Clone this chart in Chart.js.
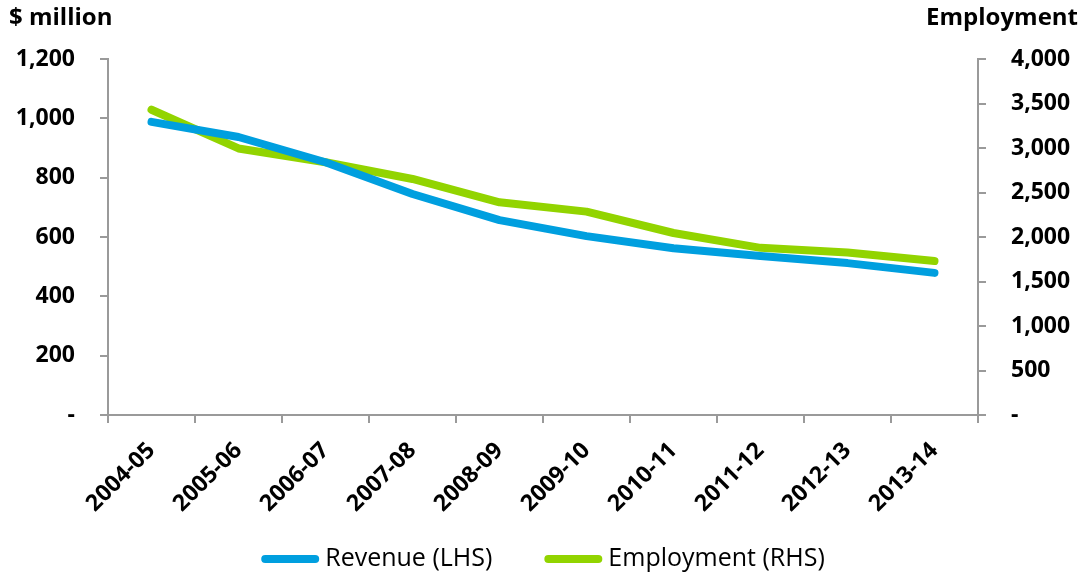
<!DOCTYPE html>
<html lang="en">
<head>
  <meta charset="UTF-8">
  <title>Revenue and employment</title>
  <style>
    body { margin: 0; background: #fff; }
    #wrap { position: relative; width: 1090px; height: 575px; }
  </style>
  <script src="https://cdn.jsdelivr.net/npm/chart.js"></script>
</head>
<body>
  <div id="wrap"><canvas id="chart"></canvas></div>
  <script>
    // data
    const years = ['2004-05', '2005-06', '2006-07', '2007-08', '2008-09',
                   '2009-10', '2010-11', '2011-12', '2012-13', '2013-14'];
    const revenue = [988, 937, 852, 745, 657, 603, 562, 536, 512, 479];
    const employment = [3430, 2995, 2840, 2652, 2390, 2285, 2045, 1878, 1825, 1730];
    const leftTicks = [0, 200, 400, 600, 800, 1000, 1200];
    const rightTicks = [0, 500, 1000, 1500, 2000, 2500, 3000, 3500, 4000];

    const BLUE = '#009FDF';
    const GREEN = '#92D400';
    const AXIS = '#9A9A9A';
    const FONT = '"Open Sans", sans-serif';

    const fmt = v => v === 0 ? '-' : v.toLocaleString('en-US');

    // axis captions at the top corners + legend along the bottom
    const extras = {
      id: 'extras',
      afterDraw(chart) {
        const c = chart.ctx;
        c.save();
        c.font = 'bold 24px ' + FONT;
        c.fillStyle = '#000';
        c.textBaseline = 'middle';
        c.textAlign = 'left';
        c.fillText('$ million', 9, 18);
        c.textAlign = 'right';
        c.fillText('Employment', 1078, 18);

        // legend
        c.font = '25px ' + FONT;
        const lineW = 58, gap = 6, between = 52, y = 559;
        const items = chart.data.datasets.map(d => ({
          text: d.label, color: d.borderColor, w: lineW + gap + c.measureText(d.label).width
        }));
        const total = items.reduce((s, it) => s + it.w, 0) + between * (items.length - 1);
        let x = (chart.chartArea.left + chart.chartArea.right) / 2 - total / 2;
        c.textAlign = 'left';
        items.forEach(it => {
          c.strokeStyle = it.color;
          c.lineWidth = 8;
          c.lineCap = 'round';
          c.beginPath();
          c.moveTo(x + 4, y);
          c.lineTo(x + lineW - 4, y);
          c.stroke();
          c.fillStyle = '#000';
          c.fillText(it.text, x + lineW + gap, y);
          x += it.w + between;
        });
        c.restore();
      }
    };

    new Chart(document.getElementById('chart'), {
      type: 'line',
      data: {
        labels: years,
        datasets: [{
          label: 'Revenue (LHS)',
          data: revenue,
          yAxisID: 'y',
          borderColor: BLUE,
          backgroundColor: BLUE,
          borderWidth: 8,
          borderCapStyle: 'round',
          borderJoinStyle: 'round',
          pointRadius: 0,
          tension: 0
        }, {
          label: 'Employment (RHS)',
          data: employment,
          yAxisID: 'y2',
          borderColor: GREEN,
          backgroundColor: GREEN,
          borderWidth: 8,
          borderCapStyle: 'round',
          borderJoinStyle: 'round',
          pointRadius: 0,
          tension: 0
        }]
      },
      options: {
        responsive: true,
        maintainAspectRatio: false,
        animation: false,
        layout: { padding: { top: 59, left: 0, right: 0, bottom: 0 } },
        plugins: {
          tooltip: { enabled: false },
          legend: { display: false }
        },
        scales: {
          x: {
            offset: true,
            grid: { offset: true, drawOnChartArea: false, color: AXIS, lineWidth: 2, tickLength: 8 },
            border: { color: AXIS, width: 2 },
            ticks: {
              color: '#000',
              font: { family: FONT, size: 23, weight: 'bold' },
              maxRotation: 45,
              minRotation: 45,
              padding: 14
            },
            afterFit: s => { s.height = 160; }
          },
          y: {
            position: 'left',
            min: 0,
            max: 1200,
            afterBuildTicks: s => { s.ticks = leftTicks.map(v => ({ value: v })); },
            grid: { drawOnChartArea: false, color: AXIS, lineWidth: 2, tickLength: 8 },
            border: { color: AXIS, width: 2 },
            ticks: {
              color: '#000',
              font: { family: FONT, size: 23, weight: 'bold' },
              padding: 25,
              callback: v => fmt(v)
            },
            afterFit: s => { s.width = 108; }
          },
          y2: {
            position: 'right',
            min: 0,
            max: 4000,
            afterBuildTicks: s => { s.ticks = rightTicks.map(v => ({ value: v })); },
            grid: { drawOnChartArea: false, color: AXIS, lineWidth: 2, tickLength: 8 },
            border: { color: AXIS, width: 2 },
            ticks: {
              color: '#000',
              font: { family: FONT, size: 23, weight: 'bold' },
              padding: 25,
              callback: v => fmt(v)
            },
            afterFit: s => { s.width = 112; }
          }
        }
      },
      plugins: [extras]
    });
  </script>
</body>
</html>
